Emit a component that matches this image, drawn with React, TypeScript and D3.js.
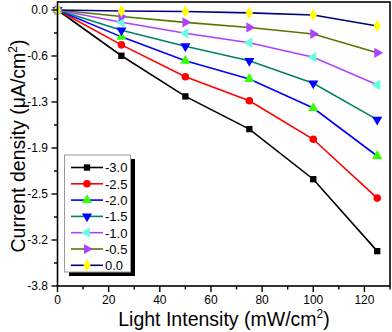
import React, { useEffect, useRef } from 'react';
import * as d3 from 'd3';

const intensity = [0, 25, 50, 75, 100, 125];
const biasLabels = ['-3.0', '-2.5', '-2.0', '-1.5', '-1.0', '-0.5', '0.0'];
const s30 = [0, -0.63, -1.19, -1.64, -2.33, -3.32];
const s25 = [0, -0.48, -0.92, -1.25, -1.78, -2.59];
const s20 = [0, -0.37, -0.7, -0.95, -1.35, -2.01];
const s15 = [0, -0.28, -0.5, -0.7, -1.01, -1.51];
const s10 = [0, -0.17, -0.32, -0.45, -0.65, -1.03];
const s05 = [0, -0.09, -0.17, -0.24, -0.33, -0.59];
const s00 = [0, -0.014, -0.02, -0.04, -0.07, -0.22];
const xTicks = [0, 20, 40, 60, 80, 100, 120];
const yTicks = [0, -0.6333, -1.2667, -1.9, -2.5333, -3.1667, -3.8];

const allSeries = [s30, s25, s20, s15, s10, s05, s00];
const lineColors = ['#000000', '#ff0000', '#0000ff', '#008066', '#b040ff', '#557700', '#000080'];
const markerColors = ['#000000', '#ff0000', '#33ff00', '#0000ff', '#66ffdd', '#b040ff', '#ffff00'];

const W = 392;
const H = 332;

const App = () => {
  const ref = useRef<SVGSVGElement>(null);

  useEffect(() => {
    if (!ref.current) return;
    const svg = d3.select(ref.current);
    svg.selectAll('*').remove();
    const font = 'Arial, "Liberation Sans", sans-serif';

    const x = d3.scaleLinear().domain([0, 130]).range([57.5, 390]);
    const y = d3.scaleLinear().domain([-3.8, 0.11]).range([286, 2]);

    // Origin-style symbol cycle
    const sym = (i: number) => {
      const types = [d3.symbolSquare, d3.symbolCircle, d3.symbolTriangle, d3.symbolTriangle, d3.symbolTriangle, d3.symbolTriangle, d3.symbolDiamond];
      const rot = [0, 0, 0, 180, 270, 90, 0];
      const size = [40, 45, 45, 45, 45, 45, 45];
      return { d: d3.symbol().type(types[i]).size(size[i])(), rot: rot[i] };
    };

    const line = d3.line<number>().x((_, j) => x(intensity[j])).y((d) => y(d));
    allSeries.forEach((s, i) => {
      svg.append('path').attr('d', line(s)).attr('fill', 'none')
        .attr('stroke', lineColors[i]).attr('stroke-width', 1.6);
    });
    allSeries.forEach((s, i) => {
      const m = sym(i);
      s.forEach((v, j) => {
        svg.append('path').attr('d', m.d)
          .attr('transform', `translate(${x(intensity[j])},${y(v)}) rotate(${m.rot})`)
          .attr('fill', markerColors[i]);
      });
    });

    // frame
    svg.append('rect').attr('x', 57.5).attr('y', 2).attr('width', 332.5).attr('height', 284)
      .attr('fill', 'none').attr('stroke', '#000').attr('stroke-width', 1.6);

    // x ticks
    const xMinor = d3.range(10, 131, 20);
    xTicks.forEach((t) => {
      svg.append('line').attr('x1', x(t)).attr('x2', x(t)).attr('y1', 286).attr('y2', 292)
        .attr('stroke', '#000').attr('stroke-width', 1.4);
      svg.append('text').attr('x', x(t)).attr('y', 303.5).attr('text-anchor', 'middle')
        .attr('font-family', font).attr('font-size', 12).text(String(t));
    });
    xMinor.forEach((t) => {
      svg.append('line').attr('x1', x(t)).attr('x2', x(t)).attr('y1', 286).attr('y2', 289.5)
        .attr('stroke', '#000').attr('stroke-width', 1.4);
    });

    // y ticks
    yTicks.forEach((t, k) => {
      svg.append('line').attr('x1', 51.5).attr('x2', 57.5).attr('y1', y(t)).attr('y2', y(t))
        .attr('stroke', '#000').attr('stroke-width', 1.4);
      svg.append('text').attr('x', 48).attr('y', y(t) + 4.3).attr('text-anchor', 'end')
        .attr('font-family', font).attr('font-size', 12).text(t.toFixed(1) === '-0.0' ? '0.0' : t.toFixed(1));
      if (k < yTicks.length - 1) {
        const mid = (t + yTicks[k + 1]) / 2;
        svg.append('line').attr('x1', 54).attr('x2', 57.5).attr('y1', y(mid)).attr('y2', y(mid))
          .attr('stroke', '#000').attr('stroke-width', 1.4);
      }
    });

    // axis titles
    const xt = svg.append('text').attr('x', 224).attr('y', 326).attr('text-anchor', 'middle')
      .attr('font-family', font).attr('font-size', 19.5);
    xt.append('tspan').text('Light Intensity (mW/cm');
    xt.append('tspan').attr('dy', -8).attr('font-size', 12).text('2');
    xt.append('tspan').attr('dy', 8).text(')');

    const yt = svg.append('text').attr('transform', `translate(25,146) rotate(-90)`)
      .attr('text-anchor', 'middle').attr('font-family', font).attr('font-size', 19.5);
    yt.append('tspan').text('Current density (\u03bcA/cm');
    yt.append('tspan').attr('dy', -8).attr('font-size', 12).text('2');
    yt.append('tspan').attr('dy', 8).text(')');

    // legend
    const lg = svg.append('g');
    lg.append('rect').attr('x', 69).attr('y', 159).attr('width', 66).attr('height', 117).attr('fill', '#000');
    lg.append('rect').attr('x', 64.5).attr('y', 155).attr('width', 66).attr('height', 117)
      .attr('fill', '#fff').attr('stroke', '#999').attr('stroke-width', 1);
    biasLabels.forEach((lab, i) => {
      const ly = 167.5 + i * 16.3;
      lg.append('line').attr('x1', 71).attr('x2', 103).attr('y1', ly).attr('y2', ly)
        .attr('stroke', lineColors[i]).attr('stroke-width', 1.6);
      const m = sym(i);
      lg.append('path').attr('d', m.d).attr('transform', `translate(87,${ly}) rotate(${m.rot})`)
        .attr('fill', markerColors[i]);
      lg.append('text').attr('x', 105).attr('y', ly + 4.8).attr('font-family', font)
        .attr('font-size', 13).text(lab);
    });
  }, []);

  return (
    <svg ref={ref} width={W} height={H} style={{ position: 'absolute', left: 0, top: 0, background: '#fff' }} />
  );
};

export default App;
